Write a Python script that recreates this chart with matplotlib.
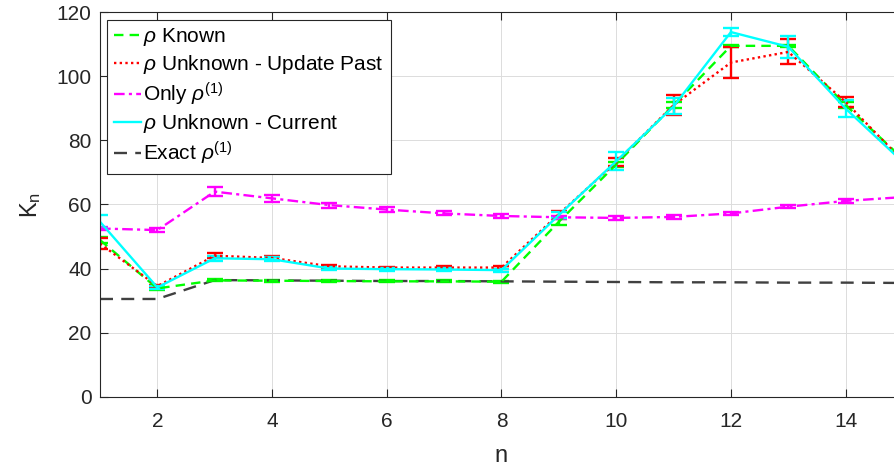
import matplotlib as mpl
import matplotlib.pyplot as plt
import numpy as np

mpl.rcParams['font.family'] = 'Liberation Sans'
mpl.rcParams['mathtext.fontset'] = 'custom'
mpl.rcParams['mathtext.rm'] = 'Liberation Sans'
mpl.rcParams['mathtext.it'] = 'Liberation Sans:italic'

n = np.arange(1, 16)

# rho known
known = [48.9, 33.8, 36.3, 36.2, 36.1, 36.0, 36.0, 35.9, 54.6, 72.5,
         91.0, 109.5, 109.5, 91.0, 74.2]
known_err = [0.8, 0.4, 0.3, 0.3, 0.3, 0.3, 0.3, 0.3, 1.0, 0.8,
             1.0, 0.3, 0.3, 1.0, 0.8]

# rho unknown - update past
update = [47.8, 34.5, 44.0, 43.3, 40.7, 40.3, 40.3, 40.3, 57.0, 73.2,
          91.0, 104.3, 107.6, 92.0, 73.5]
update_err = [1.8, 0.5, 0.8, 0.6, 0.5, 0.3, 0.4, 0.4, 0.8, 1.2,
              3.1, 4.7, 3.9, 1.6, 1.5]

# only rho^(1)
only1 = [52.5, 52.0, 64.0, 61.9, 59.8, 58.4, 57.2, 56.4, 56.0, 55.8,
         56.1, 57.2, 59.3, 61.1, 62.3]
only1_err = [0.6, 0.5, 1.4, 1.0, 0.8, 0.7, 0.6, 0.5, 0.5, 0.5,
             0.5, 0.5, 0.5, 0.6, 0.6]

# rho unknown - current
current = [54.6, 34.1, 43.2, 42.9, 40.0, 39.8, 39.7, 39.5, 56.7, 73.5,
           90.6, 113.8, 109.2, 89.9, 73.2]
current_err = [2.1, 0.6, 0.8, 0.6, 0.5, 0.5, 0.5, 0.5, 0.8, 2.8,
               2.5, 1.3, 3.4, 2.6, 2.0]

# exact rho^(1)
exact = [30.5, 30.5, 36.4, 36.3, 36.2, 36.1, 36.1, 36.0, 35.9, 35.8,
         35.7, 35.7, 35.6, 35.6, 35.5]

labels = [r'$\rho$ Known', r'$\rho$ Unknown - Update Past',
          r'Only $\rho^{\mathregular{(1)}}$', r'$\rho$ Unknown - Current',
          r'Exact $\rho^{\mathregular{(1)}}$']

fig = plt.figure(figsize=(8.95, 4.69), dpi=100)
ax = fig.add_axes([100 / 895, 1 - 396.7 / 469, 803 / 895, 384.5 / 469])

lw = 1.7
cap = 5.5
series = [
    (known, known_err, '#00ff00', (0, (4, 2.6))),
    (update, update_err, '#ff0000', (0, (1, 1.4))),
    (only1, only1_err, '#ff00ff', (0, (4.5, 1.8, 1.3, 1.8))),
    (current, current_err, '#00ffff', '-'),
]
handles = []
for vals, err, color, ls in series:
    line, caps, bars = ax.errorbar(n, vals, yerr=err, color=color, lw=lw,
                                   ls=ls, elinewidth=lw, capsize=cap,
                                   capthick=lw)
    for b in bars:
        b.set_linestyle('-')
    handles.append(line)

ex_line, = ax.plot(n, exact, color='#404040', lw=lw, ls=(0, (5.5, 3.5)))
handles.append(ex_line)

ax.set_xlim(1, 15)
ax.set_ylim(0, 120)
ax.set_xticks(np.arange(2, 15, 2))
ax.set_yticks(np.arange(0, 121, 20))
ax.grid(True, color='#dcdcdc', lw=0.7)
ax.set_axisbelow(True)
ax.tick_params(direction='in', length=6, width=0.8, labelsize=15,
               colors='#262626', top=True, right=True)
ax.tick_params(axis='x', pad=11)
ax.tick_params(axis='y', pad=6)
for s in ax.spines.values():
    s.set_color('#262626')
    s.set_linewidth(0.8)

ax.set_xlabel('n', fontsize=17, color='#262626', labelpad=10)
ax.set_ylabel(r'K$_\mathregular{n}$', fontsize=17, color='#262626', labelpad=10)

leg = ax.legend(handles, labels,
                loc='upper left', bbox_to_anchor=(0.009, 0.981),
                fontsize=15, handlelength=1.3, handletextpad=0.1,
                labelspacing=0.22, borderpad=0.33, borderaxespad=0,
                fancybox=False, framealpha=1)
leg.get_frame().set_edgecolor('#262626')
leg.get_frame().set_linewidth(0.8)

fig.savefig('out.png', dpi=100)
